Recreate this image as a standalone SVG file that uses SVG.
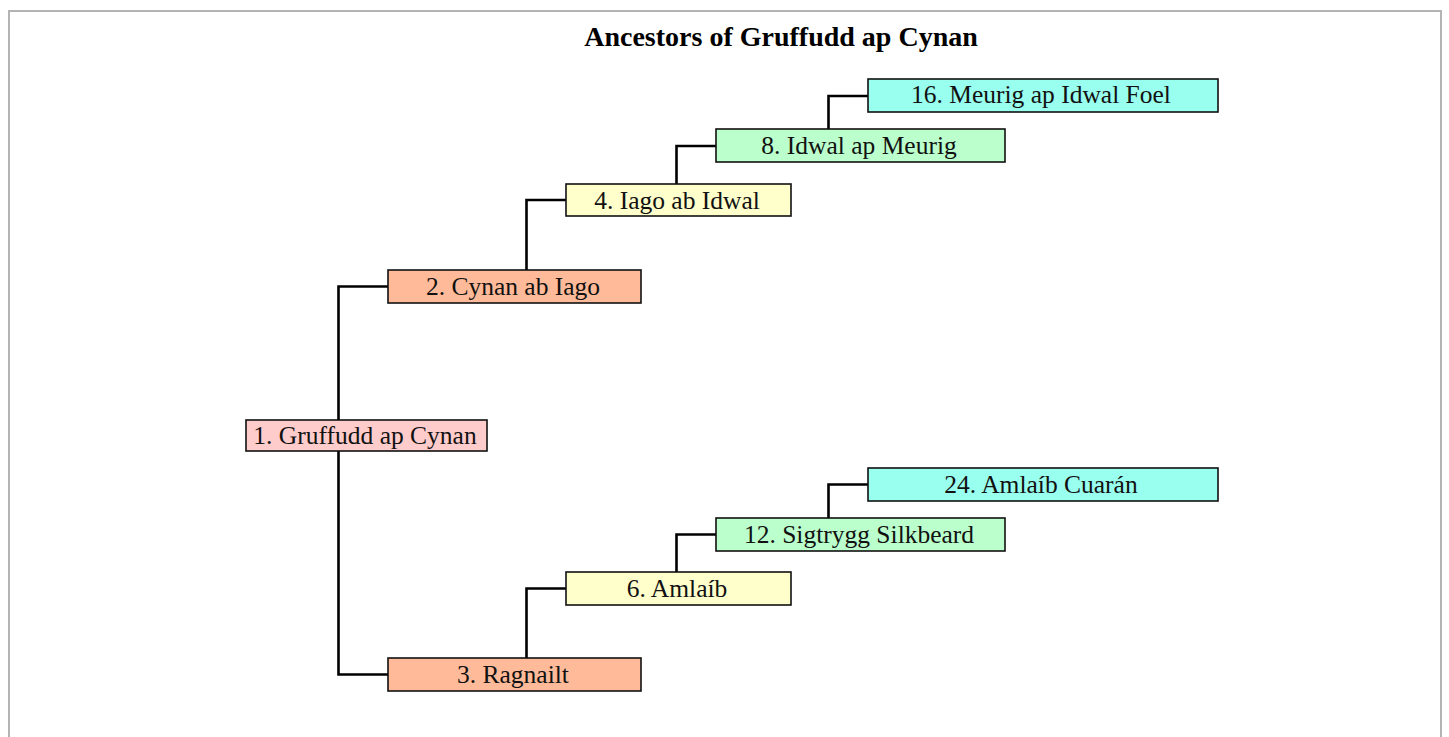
<svg xmlns="http://www.w3.org/2000/svg" width="1449" height="737" viewBox="0 0 1449 737">
<style>
.frame{fill:#fff;stroke:#b4b4b4;stroke-width:2}
.box{stroke:#111;stroke-width:1.6}
.lbl{font-family:"Liberation Serif",serif;font-size:25.5px;text-anchor:middle;fill:#111}
.title{font-family:"Liberation Serif",serif;font-size:28px;font-weight:bold;text-anchor:middle;fill:#000}
.conn{fill:none;stroke:#000;stroke-width:2.6}
.g1{fill:#ffcccc}.g2{fill:#ffbb99}.g3{fill:#ffffcc}.g4{fill:#bbffcc}.g5{fill:#99ffee}
</style>
<rect class="frame" x="9" y="11" width="1432" height="740"/>
<text class="title" x="781" y="46">Ancestors of Gruffudd ap Cynan</text>
<g id="connectors">
<path class="conn" d="M338.5 420V286.5H388"/>
<path class="conn" d="M338.5 451V674.5H388"/>
<path class="conn" d="M526.5 270V200H566"/>
<path class="conn" d="M526.5 658V588.5H566"/>
<path class="conn" d="M676.5 184V146H716"/>
<path class="conn" d="M676.5 572V534.5H716"/>
<path class="conn" d="M828.5 129V96H868"/>
<path class="conn" d="M828.5 518V484.5H868"/>
</g>
<g id="n1"><rect class="box g1" x="246" y="420" width="241" height="31"/><text class="lbl" x="365" y="443.5">1. Gruffudd ap Cynan</text></g>
<g id="n2"><rect class="box g2" x="388" y="270" width="253" height="33"/><text class="lbl" x="513" y="295">2. Cynan ab Iago</text></g>
<g id="n3"><rect class="box g2" x="388" y="658" width="253" height="33"/><text class="lbl" x="513" y="683">3. Ragnailt</text></g>
<g id="n4"><rect class="box g3" x="566" y="184" width="225" height="32"/><text class="lbl" x="677" y="208.5">4. Iago ab Idwal</text></g>
<g id="n6"><rect class="box g3" x="566" y="572" width="225" height="33"/><text class="lbl" x="677" y="597">6. Amlaíb</text></g>
<g id="n8"><rect class="box g4" x="716" y="129" width="289" height="33"/><text class="lbl" x="859" y="154">8. Idwal ap Meurig</text></g>
<g id="n12"><rect class="box g4" x="716" y="518" width="289" height="33"/><text class="lbl" x="859" y="543">12. Sigtrygg Silkbeard</text></g>
<g id="n16"><rect class="box g5" x="868" y="79" width="350" height="33"/><text class="lbl" x="1041" y="103">16. Meurig ap Idwal Foel</text></g>
<g id="n24"><rect class="box g5" x="868" y="468" width="350" height="33"/><text class="lbl" x="1041" y="492.5">24. Amlaíb Cuarán</text></g>
</svg>
